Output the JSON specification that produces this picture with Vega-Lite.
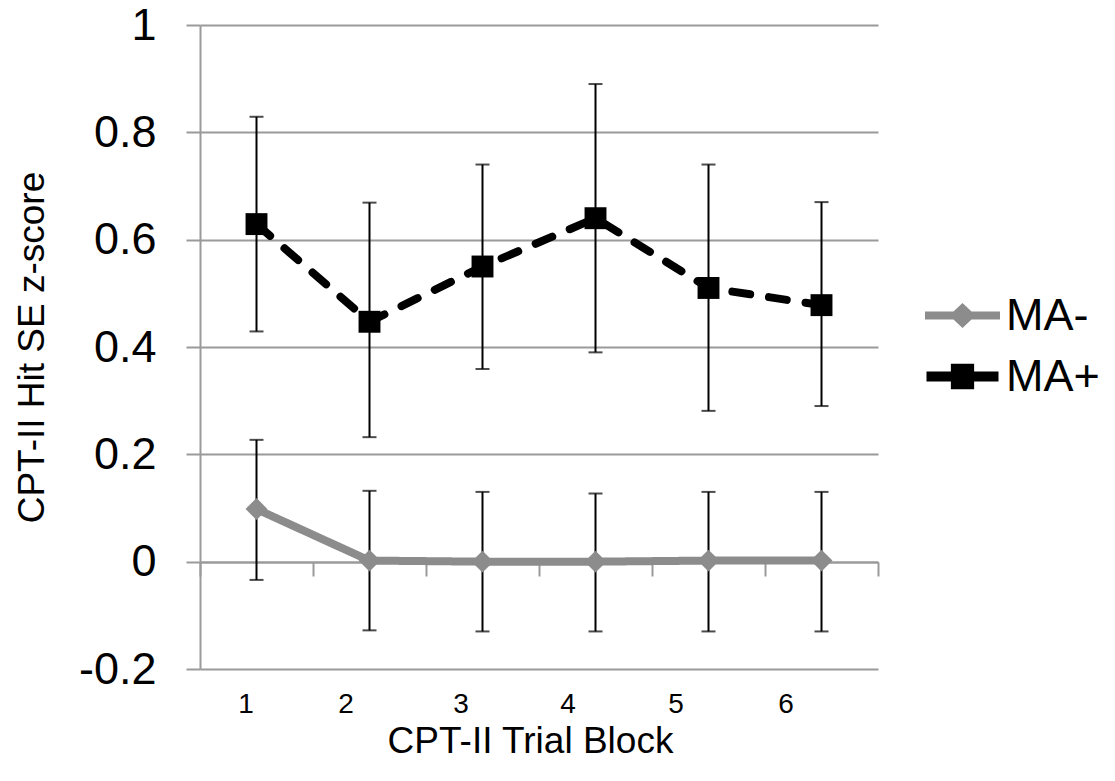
{
  "$schema": "https://vega.github.io/schema/vega-lite/v6.json",
  "autosize": "none",
  "padding": {"left": 200, "top": 25, "right": 237, "bottom": 112},
  "width": 678,
  "height": 644,
  "background": "white",
  "config": {
    "view": {"stroke": null},
    "font": "Liberation Sans",
    "axis": {"labelFont": "Liberation Sans", "titleFont": "Liberation Sans", "labelColor": "black", "titleColor": "black", "titleFontWeight": "normal"},
    "legend": {"labelFont": "Liberation Sans"}
  },
  "data": {
    "values": [
      {"block": "1", "series": "MA-", "value": 0.098, "lo": -0.034, "hi": 0.227},
      {"block": "2", "series": "MA-", "value": 0.002, "lo": -0.128, "hi": 0.132},
      {"block": "3", "series": "MA-", "value": 0.0, "lo": -0.13, "hi": 0.13},
      {"block": "4", "series": "MA-", "value": 0.0, "lo": -0.13, "hi": 0.127},
      {"block": "5", "series": "MA-", "value": 0.002, "lo": -0.13, "hi": 0.13},
      {"block": "6", "series": "MA-", "value": 0.002, "lo": -0.13, "hi": 0.13},
      {"block": "1", "series": "MA+", "value": 0.629, "lo": 0.429, "hi": 0.829},
      {"block": "2", "series": "MA+", "value": 0.447, "lo": 0.232, "hi": 0.669},
      {"block": "3", "series": "MA+", "value": 0.55, "lo": 0.359, "hi": 0.74},
      {"block": "4", "series": "MA+", "value": 0.64, "lo": 0.39, "hi": 0.89},
      {"block": "5", "series": "MA+", "value": 0.51, "lo": 0.281, "hi": 0.74},
      {"block": "6", "series": "MA+", "value": 0.478, "lo": 0.29, "hi": 0.67}
    ]
  },
  "encoding": {
    "x": {
      "field": "block", "type": "ordinal",
      "scale": {"paddingInner": 0, "paddingOuter": 0},
      "axis": {
        "title": "CPT-II Trial Block", "titleFontSize": 37, "titleBaseline": "alphabetic", "titleY": 190, "titleX": 330,
        "labelAngle": 0, "labelFontSize": 28, "labelPadding": 114, "labelBaseline": "top",
        "labelOffset": {"condition": [
          {"test": "datum.value === '1'", "value": -11},
          {"test": "datum.value === '2'", "value": -24},
          {"test": "datum.value === '3'", "value": -22},
          {"test": "datum.value === '4'", "value": -28},
          {"test": "datum.value === '5'", "value": -33}
        ], "value": -36},
        "offset": -107, "domainColor": "#9a9a9a", "domainWidth": 2,
        "tickBand": "extent", "tickSize": 14, "tickColor": "#9a9a9a", "tickWidth": 2, "grid": false
      }
    }
  },
  "layer": [
    {
      "mark": {"type": "rule", "color": "black", "strokeWidth": 2},
      "encoding": {
        "y": {"field": "lo", "type": "quantitative", "scale": {"domain": [-0.2, 1], "nice": false, "zero": false},
          "axis": {"title": "CPT-II Hit SE z-score", "titleFontSize": 37, "titlePadding": 27,
            "values": [-0.2, 0, 0.2, 0.4, 0.6, 0.8, 1], "labelExpr": "toString(round(datum.value*10)/10)",
            "labelFontSize": 45, "labelPadding": 30, "grid": true, "gridColor": "#9a9a9a", "gridWidth": 2,
            "domainColor": "#9a9a9a", "domainWidth": 2, "tickColor": "#9a9a9a", "tickWidth": 2, "tickSize": 14}},
        "y2": {"field": "hi"}
      }
    },
    {
      "mark": {"type": "tick", "color": "black", "thickness": 2, "size": 14, "orient": "horizontal"},
      "encoding": {"y": {"field": "lo", "type": "quantitative"}}
    },
    {
      "mark": {"type": "tick", "color": "black", "thickness": 2, "size": 14, "orient": "horizontal"},
      "encoding": {"y": {"field": "hi", "type": "quantitative"}}
    },
    {
      "mark": {"type": "line", "strokeWidth": 8, "strokeCap": "round", "strokeJoin": "round"},
      "encoding": {
        "y": {"field": "value", "type": "quantitative"},
        "color": {"field": "series", "type": "nominal", "scale": {"domain": ["MA-", "MA+"], "range": ["#8c8c8c", "#000000"]}},
        "strokeDash": {"field": "series", "type": "nominal", "scale": {"domain": ["MA-", "MA+"], "range": [[1, 0], [18, 19]]}, "legend": null}
      }
    },
    {
      "transform": [{"filter": "datum.series === 'MA-'"}],
      "mark": {"type": "point", "filled": true, "opacity": 1, "size": 480, "shape": "diamond", "color": "#8c8c8c"},
      "encoding": {
        "y": {"field": "value", "type": "quantitative"}
      }
    },
    {
      "transform": [{"filter": "datum.series === 'MA+'"}],
      "mark": {"type": "point", "filled": true, "opacity": 1, "size": 480, "shape": "square", "color": "#000000"},
      "encoding": {
        "y": {"field": "value", "type": "quantitative"}
      }
    },
    {
      "transform": [{"filter": "false"}],
      "mark": {"type": "point", "filled": true, "opacity": 1},
      "encoding": {
        "y": {"field": "value", "type": "quantitative"},
        "color": {"field": "series", "type": "nominal",
          "legend": {"title": null, "orient": "none", "legendX": 725, "legendY": 253, "padding": 0,
            "labelFontSize": 45, "labelColor": "black", "labelOffset": 6, "symbolSize": 5625, "rowPadding": 0, "symbolStrokeWidth": 0}},
        "shape": {"field": "series", "type": "nominal",
          "scale": {"domain": ["MA-", "MA+"], "range": [
            "M-1,-0.107 L-0.24,-0.107 L0,-0.333 L0.24,-0.107 L1,-0.107 L1,0.107 L0.24,0.107 L0,0.333 L-0.24,0.107 L-1,0.107 Z",
            "M-0.96,-0.133 L-0.31,-0.133 L-0.31,-0.34 L0.31,-0.34 L0.31,-0.133 L0.96,-0.133 L0.96,0.133 L0.31,0.133 L0.31,0.34 L-0.31,0.34 L-0.31,0.133 L-0.96,0.133 Z"
          ]},
          "legend": {"title": null, "orient": "none", "legendX": 725, "legendY": 253, "padding": 0,
            "labelFontSize": 45, "labelColor": "black", "labelOffset": 6, "symbolSize": 5625, "rowPadding": 0, "symbolStrokeWidth": 0}}
      }
    }
  ]
}
